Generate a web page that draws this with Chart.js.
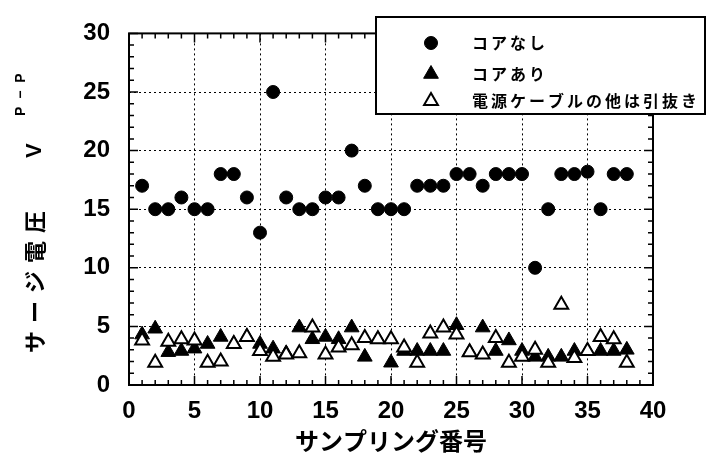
<!DOCTYPE html>
<html>
<head>
<meta charset="utf-8">
<script src="https://cdn.jsdelivr.net/npm/chart.js@4"></script>
<style>
html,body{margin:0;padding:0;background:#fff;}
</style>
</head>
<body>
<canvas id="myChart" width="706" height="459"></canvas>
<script>
// サンプリング番号
var sampleNo = [1,2,3,4,5,6,7,8,9,10,11,12,13,14,15,16,17,18,19,20,21,22,23,24,25,26,27,28,29,30,31,32,33,34,35,36,37,38];
// コアなし
var coreNone = [17,15,15,16,15,15,18,18,16,13,25,16,15,15,16,16,20,17,15,15,15,17,17,17,18,18,17,18,18,18,10,15,18,18,18.2,15,18,18];
// コアあり
var coreOn = [4.3,4.8,2.8,2.9,3.1,3.5,4.1,3.5,4.1,3.5,3.1,2.7,4.9,3.9,4.1,3.9,4.9,2.4,3.9,1.9,2.9,2.9,2.9,2.9,5.1,2.8,4.9,2.9,3.8,2.9,2.4,2.4,2.4,2.9,2.9,2.9,2.9,3.0];
// 電源ケーブルの他は引抜き
var unplugged = [3.8,1.9,3.7,3.9,3.8,1.9,2.0,3.5,4.1,2.9,2.4,2.6,2.7,4.9,2.6,3.2,3.4,4.0,3.9,3.9,3.2,1.9,4.4,4.9,4.3,2.8,2.6,4.0,1.9,2.4,3.0,1.9,6.85,2.3,2.9,4.1,3.9,1.9];
var xTicks = [0,5,10,15,20,25,30,35,40];
var yTicks = [0,5,10,15,20,25,30];

function pts(vals){
	var out = [];
	for(let i=0;i<vals.length;i++){
		out.push({x: sampleNo[i], y: vals[i]});
	}
	return out;
}

var jp = '"Noto Sans CJK JP"';

// 枠と内向きの目盛り
var framePlugin = {
	id: 'frame',
	afterDatasetsDraw: function(chart){
		var ctx = chart.ctx, a = chart.chartArea;
		var xs = chart.scales.x, ys = chart.scales.y;
		ctx.save();
		ctx.strokeStyle = '#000';
		ctx.lineWidth = 1.5;
		for(let v=0; v<=40; v++){
			let px = xs.getPixelForValue(v);
			let len = (v%5===0) ? 9 : 5;
			ctx.beginPath();
			ctx.moveTo(px, a.bottom); ctx.lineTo(px, a.bottom-len);
			ctx.moveTo(px, a.top); ctx.lineTo(px, a.top+len);
			ctx.stroke();
		}
		for(let v=0; v<=30; v++){
			let py = ys.getPixelForValue(v);
			let len = (v%5===0) ? 9 : 5;
			ctx.beginPath();
			ctx.moveTo(a.left, py); ctx.lineTo(a.left+len, py);
			ctx.moveTo(a.right, py); ctx.lineTo(a.right-len, py);
			ctx.stroke();
		}
		ctx.lineWidth = 2;
		ctx.strokeRect(a.left, a.top, a.right-a.left, a.bottom-a.top);
		ctx.restore();
	}
};

// 凡例と縦軸タイトル
var textPlugin = {
	id: 'texts',
	afterDraw: function(chart){
		var ctx = chart.ctx;
		ctx.save();
		// legend box
		ctx.fillStyle = '#fff';
		ctx.fillRect(376, 17, 329, 97);
		ctx.strokeStyle = '#000';
		ctx.lineWidth = 2;
		ctx.strokeRect(376, 17, 329, 97);
		var rows = [43, 74, 101];
		chart.data.datasets.forEach(function(ds, i){
			ctx.fillStyle = ds.backgroundColor;
			ctx.strokeStyle = ds.borderColor;
			ctx.lineWidth = ds.borderWidth;
			Chart.helpers.drawPoint(ctx, {pointStyle: ds.pointStyle, radius: ds.pointRadius, rotation: 0, borderWidth: ds.borderWidth}, 431, rows[i]);
			ctx.fillStyle = '#000';
			ctx.font = 'bold 16px ' + jp;
			ctx.letterSpacing = '3px';
			ctx.textAlign = 'left';
			ctx.textBaseline = 'middle';
			ctx.fillText(ds.label, 472, rows[i]);
		});
		// y axis title
		ctx.translate(35, 0);
		ctx.rotate(-Math.PI/2);
		ctx.fillStyle = '#000';
		ctx.textBaseline = 'middle';
		ctx.textAlign = 'left';
		ctx.font = 'bold 22px ' + jp;
		ctx.letterSpacing = '8px';
		ctx.fillText('サージ電圧', -353, 0);
		ctx.letterSpacing = '0px';
		ctx.font = 'bold 22px "Liberation Sans"';
		ctx.fillText('V', -158, 0);
		ctx.font = 'bold 14px "Liberation Sans"';
		ctx.letterSpacing = '2px';
		ctx.fillText('P \u2212 P', -116, -14);
		ctx.restore();
	}
};

var ctx = document.getElementById('myChart').getContext('2d');
var chart = new Chart(ctx, {
	type: 'scatter',
	data: {
		datasets: [{
			label: 'コアなし',
			data: pts(coreNone),
			pointStyle: 'circle',
			pointRadius: 6.5,
			backgroundColor: '#000',
			borderColor: '#000',
			borderWidth: 1,
			order: 2
		},{
			label: 'コアあり',
			data: pts(coreOn),
			pointStyle: 'triangle',
			pointRadius: 8.5,
			backgroundColor: '#000',
			borderColor: '#000',
			borderWidth: 1,
			order: 1
		},{
			label: '電源ケーブルの他は引抜き',
			data: pts(unplugged),
			pointStyle: 'triangle',
			pointRadius: 8,
			backgroundColor: '#fff',
			borderColor: '#000',
			borderWidth: 2,
			order: 0
		}]
	},
	options: {
		responsive: false,
		animation: false,
		layout: {padding: {left: 0, right: 53, top: 17, bottom: 4}},
		plugins: {legend: {display: false}, tooltip: {enabled: false}},
		scales: {
			x: {
				type: 'linear', min: 0, max: 40,
				afterBuildTicks: function(s){ s.ticks = xTicks.map(v => ({value: v})); },
				afterFit: function(s){ s.height = 70; },
				grid: {
					color: c => (c.tick && (c.tick.value===0 || c.tick.value===40)) ? 'rgba(0,0,0,0)' : '#000',
					lineWidth: 1, drawTicks: false
				},
				border: {display: false, dash: [2,3]},
				ticks: {padding: 12, color: '#000', maxRotation: 0, font: {family: 'Liberation Sans', size: 24, weight: 'bold'}},
				title: {display: true, text: 'サンプリング番号', color: '#000', padding: 0, font: {family: 'Noto Sans CJK JP', size: 24, weight: 'bold'}}
			},
			y: {
				type: 'linear', min: 0, max: 30,
				afterBuildTicks: function(s){ s.ticks = yTicks.map(v => ({value: v})); },
				afterFit: function(s){ s.width = 129; },
				grid: {
					color: c => (c.tick && (c.tick.value===0 || c.tick.value===30)) ? 'rgba(0,0,0,0)' : '#000',
					lineWidth: 1, drawTicks: false
				},
				border: {display: false, dash: [2,3]},
				ticks: {padding: 19, color: '#000', font: {family: 'Liberation Sans', size: 24, weight: 'bold'}}
			}
		}
	},
	plugins: [framePlugin, textPlugin]
});
</script>
</body>
</html>
